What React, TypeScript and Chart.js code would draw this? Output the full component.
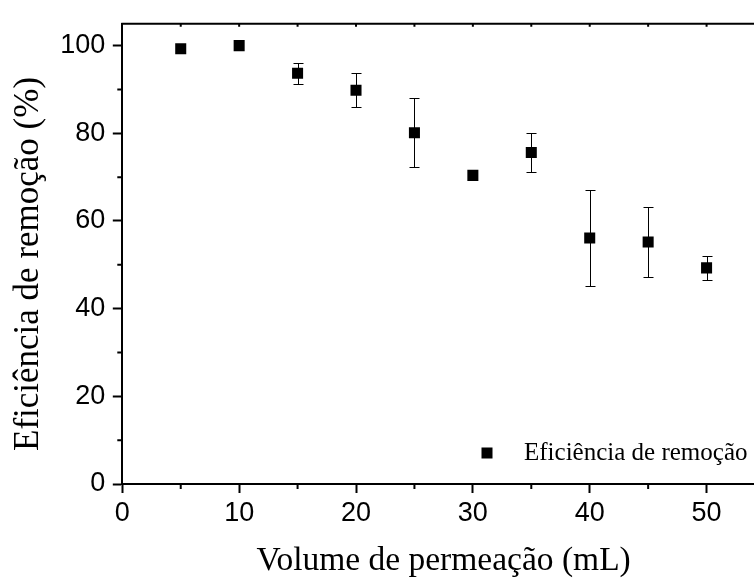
import React, { useEffect, useRef } from "react";
import { Chart, registerables } from "chart.js";

Chart.register(...registerables);

// Removal efficiency vs. permeation volume
const volumes = [5, 10, 15, 20, 25, 30, 35, 40, 45, 50];
const efficiency = [99.3, 100.0, 93.7, 89.8, 80.1, 70.4, 75.6, 56.1, 55.2, 49.3];
const errors = [0, 0, 2.4, 3.9, 7.9, 0, 4.4, 11.0, 8.0, 2.8];

const xTicks = [0, 10, 20, 30, 40, 50];
const yTicks = [0, 20, 40, 60, 80, 100];
const xMinor = [5, 15, 25, 35, 45, 55];
const yMinor = [10, 30, 50, 70, 90];
const xTopTicks = [5, 10, 15, 20, 25, 30, 35, 40, 45, 50, 55];

const seriesLabel = "Eficiência de remoção";
const xTitle = "Volume de permeação (mL)";
const yTitle = "Eficiência de remoção (%)";

const SANS = '"Liberation Sans", Arial, sans-serif';
const SERIF = '"Liberation Serif", "Times New Roman", serif';

// Vertical error bars with caps, drawn under the markers
const errorBars = {
  id: "errorBars",
  beforeDatasetsDraw(chart: any) {
    const { ctx, scales } = chart;
    const x = scales.x;
    const y = scales.y;
    ctx.save();
    ctx.strokeStyle = "#000";
    ctx.lineWidth = 1;
    volumes.forEach((v, i) => {
      const e = errors[i];
      if (!e) return;
      const px = Math.round(x.getPixelForValue(v)) + 0.5;
      const top = Math.round(y.getPixelForValue(efficiency[i] + e)) + 0.5;
      const bot = Math.round(y.getPixelForValue(efficiency[i] - e)) + 0.5;
      ctx.beginPath();
      ctx.moveTo(px, top);
      ctx.lineTo(px, bot);
      ctx.moveTo(px - 5, top);
      ctx.lineTo(px + 5, top);
      ctx.moveTo(px - 5, bot);
      ctx.lineTo(px + 5, bot);
      ctx.stroke();
    });
    ctx.restore();
  },
};

// Top frame line, its inward ticks, the minor ticks and the y-axis title
const frame = {
  id: "frame",
  afterDraw(chart: any) {
    const { ctx, chartArea, scales } = chart;
    const x = scales.x;
    const y = scales.y;
    ctx.save();
    ctx.strokeStyle = "#000";
    ctx.lineWidth = 2;
    ctx.beginPath();
    ctx.moveTo(chartArea.left - 1, chartArea.top);
    ctx.lineTo(chartArea.right, chartArea.top);
    ctx.stroke();

    ctx.beginPath();
    xTopTicks.forEach((v) => {
      const px = x.getPixelForValue(v);
      ctx.moveTo(px, chartArea.top);
      ctx.lineTo(px, chartArea.top + 3);
    });
    xMinor.forEach((v) => {
      const px = x.getPixelForValue(v);
      ctx.moveTo(px, chartArea.bottom);
      ctx.lineTo(px, chartArea.bottom + 5);
    });
    yMinor.forEach((v) => {
      const py = y.getPixelForValue(v);
      ctx.moveTo(chartArea.left, py);
      ctx.lineTo(chartArea.left - 5, py);
    });
    ctx.stroke();

    // y-axis title, rotated, starting a little above the x axis
    ctx.translate(chartArea.left - 84, chartArea.bottom - 33);
    ctx.rotate(-Math.PI / 2);
    ctx.fillStyle = "#000";
    ctx.font = `35px ${SERIF}`;
    ctx.textAlign = "left";
    ctx.textBaseline = "alphabetic";
    ctx.fillText(yTitle, 0, 0);
    ctx.restore();
  },
};

// Legend entry in the lower right of the plot area
const legendBox = {
  id: "legendBox",
  afterDraw(chart: any) {
    const { ctx, chartArea } = chart;
    const mx = chartArea.right - 278;
    const my = chartArea.bottom - 31;
    ctx.save();
    ctx.fillStyle = "#000";
    ctx.fillRect(mx - 5.5, my - 5.5, 11, 11);
    ctx.font = `25px ${SERIF}`;
    ctx.textAlign = "left";
    ctx.textBaseline = "alphabetic";
    ctx.fillText(seriesLabel, chartArea.right - 241, chartArea.bottom - 24);
    ctx.restore();
  },
};

export default function App() {
  const ref = useRef<HTMLCanvasElement | null>(null);

  useEffect(() => {
    if (!ref.current) return;
    const chart = new Chart(ref.current, {
      type: "scatter",
      data: {
        datasets: [
          {
            label: seriesLabel,
            data: volumes.map((v, i) => ({ x: v, y: efficiency[i] })),
            pointStyle: "rect",
            pointRadius: 7.8,
            pointHoverRadius: 7.8,
            backgroundColor: "#000",
            borderColor: "#000",
            borderWidth: 0,
            showLine: false,
          },
        ],
      },
      options: {
        responsive: false,
        animation: false,
        devicePixelRatio: 1,
        events: [],
        layout: { autoPadding: false, padding: { top: 15.7, right: 0, bottom: 0, left: 0 } },
        plugins: {
          legend: { display: false },
          tooltip: { enabled: false },
        },
        scales: {
          x: {
            type: "linear",
            position: "bottom",
            min: 0,
            max: 55,
            afterFit: (s: any) => {
              s.height = 96;
            },
            afterBuildTicks: (s: any) => {
              s.ticks = xTicks.map((value) => ({ value }));
            },
            ticks: {
              color: "#000",
              font: { family: SANS, size: 27 },
              padding: 4.5,
              maxRotation: 0,
              autoSkip: false,
            },
            grid: {
              display: true,
              drawOnChartArea: false,
              drawTicks: true,
              tickLength: 9,
              tickWidth: 2,
              tickColor: "#000",
            },
            border: { display: true, color: "#000", width: 2 },
            title: {
              display: true,
              text: xTitle,
              color: "#000",
              font: { family: SERIF, size: 33.5, lineHeight: 1 },
              padding: { top: 0, bottom: 2.5 },
            },
          },
          y: {
            type: "linear",
            position: "left",
            min: 0,
            max: 105,
            afterFit: (s: any) => {
              s.width = 122.3;
            },
            afterBuildTicks: (s: any) => {
              s.ticks = yTicks.map((value) => ({ value }));
            },
            ticks: {
              color: "#000",
              font: { family: SANS, size: 27 },
              padding: 7.5,
              autoSkip: false,
            },
            grid: {
              display: true,
              drawOnChartArea: false,
              drawTicks: true,
              tickLength: 9.5,
              tickWidth: 2,
              tickColor: "#000",
            },
            border: { display: true, color: "#000", width: 2 },
            title: { display: false },
          },
        },
      },
      plugins: [errorBars, frame, legendBox],
    });
    return () => chart.destroy();
  }, []);

  return (
    <div
      style={{
        position: "fixed",
        left: 0,
        top: 0,
        width: 754,
        height: 580,
        overflow: "hidden",
        background: "#fff",
      }}
    >
      <canvas ref={ref} width={765} height={580} style={{ display: "block", width: 765, height: 580 }} />
    </div>
  );
}
